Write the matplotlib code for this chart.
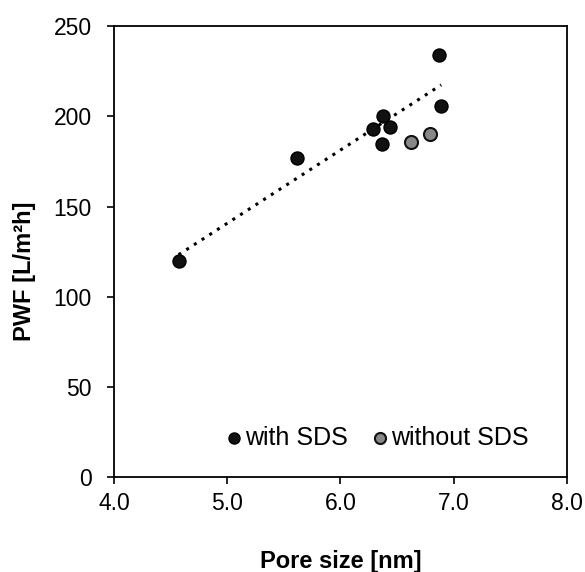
import numpy as np
import matplotlib
matplotlib.use("Agg")
import matplotlib.pyplot as plt

plt.rcParams['font.family'] = ['Liberation Sans', 'DejaVu Sans']

# Data
with_sds_x = [4.57, 5.62, 6.29, 6.38, 6.44, 6.37, 6.87, 6.89]
with_sds_y = [120, 177, 193, 200, 194, 185, 234, 206]
without_sds_x = [6.62, 6.79]
without_sds_y = [186, 190]
x_ticks = [4.0, 5.0, 6.0, 7.0, 8.0]
y_ticks = [0, 50, 100, 150, 200, 250]

fig = plt.figure(figsize=(5.85, 5.72), dpi=100)
ax = fig.add_axes([0.195, 0.166, 0.774, 0.788])

# Trendline (linear fit of with-SDS points)
coef = np.polyfit(with_sds_x, with_sds_y, 1)
xs = np.array([min(with_sds_x), max(with_sds_x)])
ax.plot(xs, np.polyval(coef, xs), linestyle=(0, (1, 2)), color='black', linewidth=2.2, zorder=2)

ax.scatter(with_sds_x, with_sds_y, s=88, c='#111111', edgecolors='black', linewidths=1, zorder=3, label='with SDS')
ax.scatter(without_sds_x, without_sds_y, s=88, c='#888888', edgecolors='#111111', linewidths=1.5, zorder=3, label='without SDS')

ax.set_xlim(4.0, 8.0)
ax.set_ylim(0, 250)
ax.set_xticks(x_ticks)
ax.set_xticklabels([f"{v:.1f}" for v in x_ticks])
ax.set_yticks(y_ticks)
ax.tick_params(axis='both', labelsize=16.5, direction='out', length=5, width=1.2, color='black')
ax.tick_params(axis='y', pad=11)
ax.tick_params(axis='x', pad=6)

for s in ax.spines.values():
    s.set_linewidth(1.3)
    s.set_color('black')

ax.set_xlabel('Pore size [nm]', fontsize=17, fontweight='bold')
ax.set_ylabel('PWF [L/m²h]', fontsize=17, fontweight='bold')
ax.xaxis.set_label_coords(0.5, -0.162)
ax.yaxis.set_label_coords(-0.172, 0.456)

leg = ax.legend(loc='center right', bbox_to_anchor=(0.915, 0.087), ncol=2, frameon=False,
                fontsize=18, markerscale=0.85, handletextpad=0.15, columnspacing=0.95,
                handlelength=0.6, borderpad=0, borderaxespad=0)

fig.savefig('out.png', dpi=100)
